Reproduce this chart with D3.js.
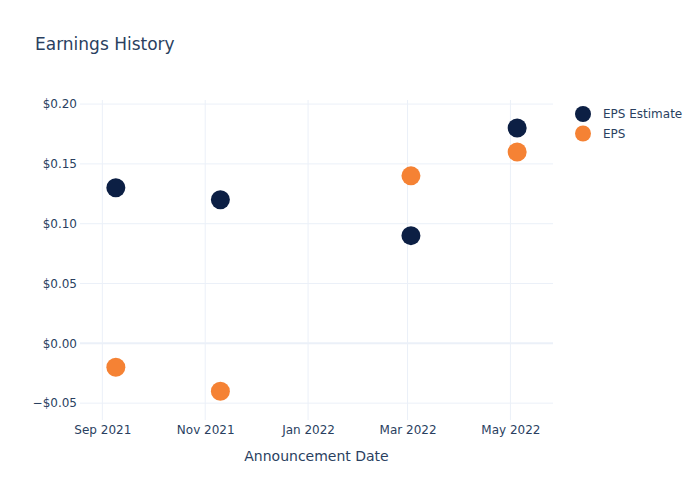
<!DOCTYPE html>
<html>
<head>
<meta charset="utf-8">
<script src="https://cdn.jsdelivr.net/npm/d3@7"></script>
<style>
  html, body { margin: 0; padding: 0; background: #fff; }
  svg { display: block; font-family: "DejaVu Sans", Verdana, sans-serif; }
</style>
</head>
<body>
<svg id="chart" width="700" height="500"></svg>
<script>
const dates = ["2021-09-09", "2021-11-10", "2022-03-03", "2022-05-05"];
const epsEstimate = [0.13, 0.12, 0.09, 0.18];
const eps = [-0.02, -0.04, 0.14, 0.16];
const seriesNames = ["EPS Estimate", "EPS"];
const seriesColors = ["#0c1f44", "#f58234"];
const yTicks = [-0.05, 0, 0.05, 0.1, 0.15, 0.2];
const xTicks = ["2021-09-01", "2021-11-01", "2022-01-01", "2022-03-01", "2022-05-01"];
const xDomain = ["2021-08-18T18:00", "2022-05-26T06:00"];
const yDomain = [-0.0641, 0.2034];

const parse = d3.utcParse("%Y-%m-%d");
const parseT = d3.utcParse("%Y-%m-%dT%H:%M");
const W = 700, H = 500;
const m = { l: 80, r: 147, t: 100, b: 80 };
const svg = d3.select("#chart");
const textColor = "#2a3f5f";
const gridColor = "#ebf0f8";

const x = d3.scaleUtc().domain(xDomain.map(parseT)).range([m.l, W - m.r]);
const y = d3.scaleLinear().domain(yDomain).range([H - m.b, m.t]);

// gridlines
const g = svg.append("g");
g.selectAll(".vg").data(xTicks).join("line")
  .attr("x1", d => x(parse(d))).attr("x2", d => x(parse(d)))
  .attr("y1", m.t).attr("y2", H - m.b)
  .attr("stroke", gridColor).attr("stroke-width", 1);
g.selectAll(".hg").data(yTicks).join("line")
  .attr("x1", m.l).attr("x2", W - m.r)
  .attr("y1", d => y(d)).attr("y2", d => y(d))
  .attr("stroke", gridColor).attr("stroke-width", d => d === 0 ? 2 : 1);

// axes
const fmtY = d => (d < 0 ? "\u2212" : "") + "$" + Math.abs(d).toFixed(2);
const yAxis = d3.axisLeft(y).tickValues(yTicks).tickFormat(fmtY).tickSize(0).tickPadding(3);
const ya = svg.append("g").attr("transform", `translate(${m.l},0)`).call(yAxis);
ya.select(".domain").remove();
ya.selectAll("text").attr("fill", textColor).attr("font-size", 12)
  .attr("font-family", '"DejaVu Sans", Verdana, sans-serif');

const fmtX = d3.utcFormat("%b %Y");
const xAxis = d3.axisBottom(x).tickValues(xTicks.map(parse)).tickFormat(fmtX).tickSize(0).tickPadding(5);
const xa = svg.append("g").attr("transform", `translate(0,${H - m.b})`).call(xAxis);
xa.select(".domain").remove();
xa.selectAll("text").attr("fill", textColor).attr("font-size", 12)
  .attr("font-family", '"DejaVu Sans", Verdana, sans-serif');

// axis title
svg.append("text").attr("x", (m.l + W - m.r) / 2).attr("y", 461)
  .attr("text-anchor", "middle").attr("fill", textColor).attr("font-size", 14)
  .text("Announcement Date");

// title
svg.append("text").attr("x", 35).attr("y", 50)
  .attr("fill", textColor).attr("font-size", 17).text("Earnings History");

// points
const series = [epsEstimate, eps];
series.forEach((vals, i) => {
  svg.append("g").selectAll("circle").data(vals).join("circle")
    .attr("cx", (d, j) => x(parse(dates[j])))
    .attr("cy", d => y(d))
    .attr("r", 9.5)
    .attr("fill", seriesColors[i]);
});

// legend
const leg = svg.append("g");
seriesNames.forEach((name, i) => {
  const ly = 114 + i * 19.5;
  leg.append("circle").attr("cx", 583).attr("cy", ly).attr("r", 8).attr("fill", seriesColors[i]);
  leg.append("text").attr("x", 603).attr("y", ly).attr("dy", "0.35em")
    .attr("fill", textColor).attr("font-size", 12).text(name);
});
</script>
</body>
</html>
